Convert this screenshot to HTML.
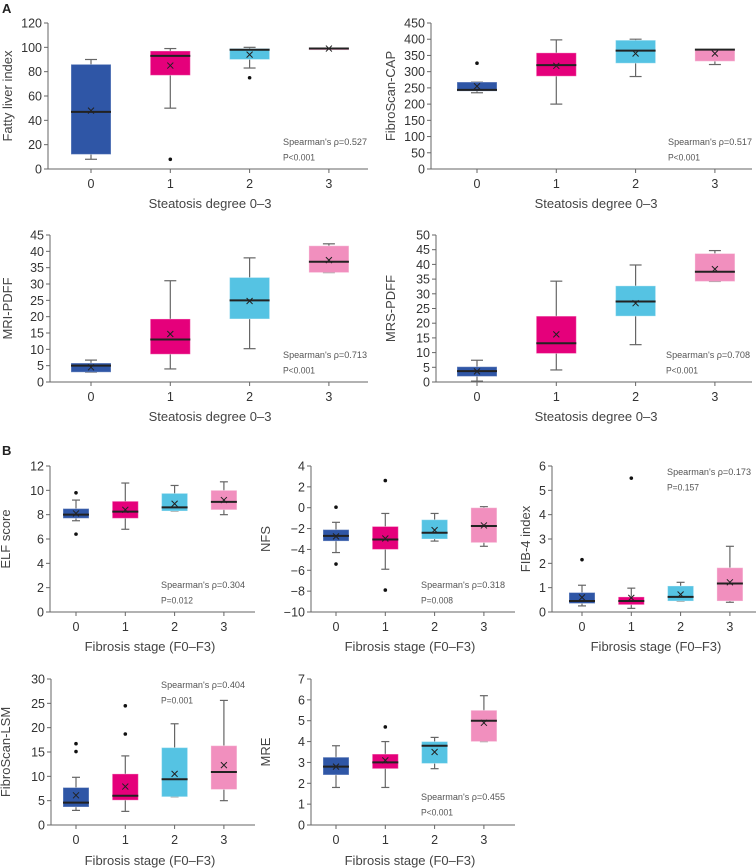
<!DOCTYPE html>
<html><head><meta charset="utf-8"><style>
html,body{margin:0;padding:0;background:#fff;}
svg{display:block;font-family:"Liberation Sans",sans-serif;}
</style></head><body>
<svg id="fig" width="756" height="868" viewBox="0 0 756 868">
<text x="2" y="13" font-size="13" font-weight="bold" fill="#222">A</text>
<text x="2" y="455" font-size="13" font-weight="bold" fill="#222">B</text>
</svg>
<script>
const categories=["0","1","2","3"];
const colors=["#2f56a6","#e5007b","#55c3e3","#f18fbe"];
// Fatty liver index
const fliLow=[8,50,83,99], fliQ1=[12,77,90,99], fliMed=[47,93,98,99], fliQ3=[86,97,99,99], fliHigh=[90,99,100,99], fliMean=[48,85,94,99];
const fliOut=[[],[8],[75],[]];
const fliTicks=[0,20,40,60,80,100,120];
// FibroScan-CAP
const capLow=[235,200,285,322], capQ1=[240,286,326,332], capMed=[244,320,365,368], capQ3=[268,358,397,368], capHigh=[268,398,400,368], capMean=[255,318,356,356];
const capOut=[[326],[],[],[]];
const capTicks=[0,50,100,150,200,250,300,350,400,450];
// MRI-PDFF
const mriLow=[3,4,10.2,33.5], mriQ1=[3,8.5,19.3,33.5], mriMed=[5,13,25,36.8], mriQ3=[5.8,19.3,32,41.7], mriHigh=[6.7,31,38,42.3], mriMean=[4.5,14.7,24.8,37.3];
const mriOut=[[],[],[],[]];
const mriTicks=[0,5,10,15,20,25,30,35,40,45];
// MRS-PDFF
const mrsLow=[0.3,4.1,12.7,34.2], mrsQ1=[1.9,9.7,22.4,34.2], mrsMed=[3.7,13.2,27.4,37.5], mrsQ3=[5.2,22.4,32.7,43.7], mrsHigh=[7.4,34.3,39.8,44.7], mrsMean=[3.6,16.2,26.8,38.4];
const mrsOut=[[],[],[],[]];
const mrsTicks=[0,5,10,15,20,25,30,35,40,45,50];
// ELF
const elfLow=[7.5,6.8,8.3,8.0], elfQ1=[7.7,7.7,8.3,8.4], elfMed=[8.0,8.25,8.6,9.05], elfQ3=[8.5,9.1,9.75,10.0], elfHigh=[9.2,10.6,10.4,10.7], elfMean=[8.1,8.4,8.9,9.2];
const elfOut=[[9.8,6.4],[],[],[]];
const elfTicks=[0,2,4,6,8,10,12];
// NFS
const nfsLow=[-4.3,-5.9,-3.2,-3.7], nfsQ1=[-3.2,-4.0,-3.0,-3.35], nfsMed=[-2.7,-3.05,-2.4,-1.75], nfsQ3=[-2.1,-1.8,-1.15,0.0], nfsHigh=[-1.4,-0.55,-0.55,0.1], nfsMean=[-2.75,-2.95,-2.15,-1.7];
const nfsOut=[[0.05,-5.4],[2.6,-7.9],[],[]];
const nfsTicks=[-10,-8,-6,-4,-2,0,2,4];
// FIB-4
const fibLow=[0.25,0.15,0.45,0.4], fibQ1=[0.35,0.3,0.45,0.45], fibMed=[0.45,0.45,0.62,1.17], fibQ3=[0.8,0.62,1.07,1.82], fibHigh=[1.1,0.98,1.22,2.7], fibMean=[0.6,0.58,0.72,1.22];
const fibOut=[[2.15],[5.5],[],[]];
const fibTicks=[0,1,2,3,4,5,6];
// FibroScan-LSM
const lsmLow=[3.0,2.8,5.8,5.0], lsmQ1=[3.7,5.1,5.8,7.3], lsmMed=[4.6,6.0,9.4,10.9], lsmQ3=[7.7,10.5,15.9,16.3], lsmHigh=[9.8,14.2,20.8,25.6], lsmMean=[6.1,7.9,10.5,12.3];
const lsmOut=[[16.7,15.1],[24.5,18.7],[],[]];
const lsmTicks=[0,5,10,15,20,25,30];
// MRE
const mreLow=[1.8,1.8,2.7,4.0], mreQ1=[2.4,2.7,2.95,4.0], mreMed=[2.8,3.0,3.8,5.0], mreQ3=[3.25,3.4,4.0,5.5], mreHigh=[3.8,4.0,4.2,6.2], mreMean=[2.8,3.1,3.5,4.9];
const mreOut=[[],[4.7],[],[]];
const mreTicks=[0,1,2,3,4,5,6,7];

const NS="http://www.w3.org/2000/svg";
const svg=document.getElementById('fig');
function mk(tag,attrs,parent){const e=document.createElementNS(NS,tag);for(const k in attrs)e.setAttribute(k,attrs[k]);(parent||svg).appendChild(e);return e;}

function panel(p){
  const g=mk('g',{});
  
  
  const t0=p.ticks[0], t1=p.ticks[p.ticks.length-1];
  const y=v=>p.y0-(v-t0)/(t1-t0)*(p.y0-p.yTop);
  const x=i=>p.cx0+i*p.dx;
  const ya=mk('line',{x1:p.ax,y1:p.yTop,x2:p.ax,y2:p.y0,stroke:'#666','stroke-width':1},g);
  
  
  const xa=mk('line',{x1:p.ax,y1:p.y0,x2:p.axEnd,y2:p.y0,stroke:'#666','stroke-width':1},g);
  
  
  p.ticks.forEach(v=>{
    mk('line',{x1:p.ax-4,y1:y(v),x2:p.ax,y2:y(v),stroke:'#666'},g);
    const t=mk('text',{x:p.ax-6,y:y(v)+4.5,'font-size':12.5,'text-anchor':'end',fill:'#333'},g);
    t.textContent=String(v).replace('-','\u2212');
    
    
  });
  categories.forEach((c,i)=>{
    mk('line',{x1:x(i),y1:p.y0,x2:x(i),y2:p.y0+4,stroke:'#666'},g);
    const t=mk('text',{x:x(i),y:p.y0+19,'font-size':12.5,'text-anchor':'middle',fill:'#333'},g);
    t.textContent=c;
    
    
    const bw=p.bw, cw=p.cap;
    const wl=mk('line',{x1:x(i),y1:y(p.low[i]),x2:x(i),y2:y(p.high[i]),stroke:'#666','stroke-width':1.2},g);
    
    
    mk('line',{x1:x(i)-cw/2,y1:y(p.low[i]),x2:x(i)+cw/2,y2:y(p.low[i]),stroke:'#666','stroke-width':1.2},g);
    mk('line',{x1:x(i)-cw/2,y1:y(p.high[i]),x2:x(i)+cw/2,y2:y(p.high[i]),stroke:'#666','stroke-width':1.2},g);
    const h=Math.max(1.5,y(p.q1[i])-y(p.q3[i]));
    const b=mk('rect',{x:x(i)-bw/2,y:y(p.q3[i]),width:bw,height:h,fill:colors[i],stroke:'rgba(255,255,255,0.35)','stroke-width':1},g);
    
    
    const m=mk('line',{x1:x(i)-bw/2,y1:y(p.med[i]),x2:x(i)+bw/2,y2:y(p.med[i]),stroke:'#222','stroke-width':2},g);
    
    
    const my=y(p.mean[i]), s=3;
    const mp=mk('path',{d:`M${x(i)-s},${my-s}L${x(i)+s},${my+s}M${x(i)-s},${my+s}L${x(i)+s},${my-s}`,stroke:'#222','stroke-width':1,fill:'none'},g);
    
    
    p.out[i].forEach(v=>{
      const o=mk('circle',{cx:x(i),cy:y(v),r:1.8,fill:'#111'},g);
      
      
    });
  });
  const xl=mk('text',{x:p.xlx,y:p.xly,'font-size':13,'text-anchor':'middle',fill:'#444'},g);
  xl.textContent=p.xlabel;
  
  
  const yc=(p.yTop+p.y0)/2;
  const yl=mk('text',{x:p.ylx,y:yc,'font-size':13,'text-anchor':'middle',fill:'#444',transform:`rotate(-90 ${p.ylx} ${yc})`},g);
  yl.textContent=p.ylabel;
  
  
  const s1=mk('text',{x:p.sx,y:p.sy,'font-size':9,fill:'#555',textLength:84,lengthAdjust:'spacingAndGlyphs'},g);
  s1.textContent=p.rho;
  
  
  const s2=mk('text',{x:p.sx,y:p.sy+15.5,'font-size':9,fill:'#555',textLength:32,lengthAdjust:'spacingAndGlyphs'},g);
  s2.textContent=p.pval;
  
  
}
const SD="Steatosis degree 0\u20133", FS="Fibrosis stage (F0\u2013F3)";
panel({name:'fatty-liver-index',ticks:fliTicks,low:fliLow,q1:fliQ1,med:fliMed,q3:fliQ3,high:fliHigh,mean:fliMean,out:fliOut,
 ax:48,axEnd:368,yTop:23,y0:169,cx0:91,dx:79.3,bw:40,cap:12,xlabel:SD,xlx:210,xly:208,ylabel:'Fatty liver index',ylx:12,sx:283,sy:145,rho:"Spearman's \u03c1=0.527",pval:'P<0.001'});
panel({name:'fibroscan-cap',ticks:capTicks,low:capLow,q1:capQ1,med:capMed,q3:capQ3,high:capHigh,mean:capMean,out:capOut,
 ax:431,axEnd:752,yTop:23,y0:169,cx0:477,dx:79.3,bw:40,cap:12,xlabel:SD,xlx:596,xly:208,ylabel:'FibroScan-CAP',ylx:395,sx:668,sy:145,rho:"Spearman's \u03c1=0.517",pval:'P<0.001'});
panel({name:'mri-pdff',ticks:mriTicks,low:mriLow,q1:mriQ1,med:mriMed,q3:mriQ3,high:mriHigh,mean:mriMean,out:mriOut,
 ax:50,axEnd:368,yTop:235,y0:382,cx0:91,dx:79.3,bw:40,cap:12,xlabel:SD,xlx:210,xly:421,ylabel:'MRI-PDFF',ylx:12,sx:283,sy:358,rho:"Spearman's \u03c1=0.713",pval:'P<0.001'});
panel({name:'mrs-pdff',ticks:mrsTicks,low:mrsLow,q1:mrsQ1,med:mrsMed,q3:mrsQ3,high:mrsHigh,mean:mrsMean,out:mrsOut,
 ax:436,axEnd:752,yTop:235,y0:382,cx0:477,dx:79.3,bw:40,cap:12,xlabel:SD,xlx:596,xly:421,ylabel:'MRS-PDFF',ylx:395,sx:666,sy:358,rho:"Spearman's \u03c1=0.708",pval:'P<0.001'});
panel({name:'elf-score',ticks:elfTicks,low:elfLow,q1:elfQ1,med:elfMed,q3:elfQ3,high:elfHigh,mean:elfMean,out:elfOut,
 ax:50,axEnd:255,yTop:466,y0:612,cx0:76,dx:49.3,bw:26,cap:8,xlabel:FS,xlx:150,xly:651,ylabel:'ELF score',ylx:10,sx:161,sy:588,rho:"Spearman's \u03c1=0.304",pval:'P=0.012'});
panel({name:'nfs',ticks:nfsTicks,low:nfsLow,q1:nfsQ1,med:nfsMed,q3:nfsQ3,high:nfsHigh,mean:nfsMean,out:nfsOut,
 ax:311,axEnd:515,yTop:466,y0:612,cx0:336,dx:49.3,bw:26,cap:8,xlabel:FS,xlx:410,xly:651,ylabel:'NFS',ylx:270,sx:421,sy:588,rho:"Spearman's \u03c1=0.318",pval:'P=0.008'});
panel({name:'fib-4-index',ticks:fibTicks,low:fibLow,q1:fibQ1,med:fibMed,q3:fibQ3,high:fibHigh,mean:fibMean,out:fibOut,
 ax:552,axEnd:756,yTop:466,y0:612,cx0:582,dx:49.3,bw:26,cap:8,xlabel:FS,xlx:656,xly:651,ylabel:'FIB-4 index',ylx:530,sx:667,sy:475,rho:"Spearman's \u03c1=0.173",pval:'P=0.157'});
panel({name:'fibroscan-lsm',ticks:lsmTicks,low:lsmLow,q1:lsmQ1,med:lsmMed,q3:lsmQ3,high:lsmHigh,mean:lsmMean,out:lsmOut,
 ax:51,axEnd:255,yTop:679,y0:825,cx0:76,dx:49.3,bw:26,cap:8,xlabel:FS,xlx:150,xly:865,ylabel:'FibroScan-LSM',ylx:10,sx:161,sy:688,rho:"Spearman's \u03c1=0.404",pval:'P=0.001'});
panel({name:'mre',ticks:mreTicks,low:mreLow,q1:mreQ1,med:mreMed,q3:mreQ3,high:mreHigh,mean:mreMean,out:mreOut,
 ax:311,axEnd:515,yTop:679,y0:825,cx0:336,dx:49.3,bw:26,cap:8,xlabel:FS,xlx:410,xly:865,ylabel:'MRE',ylx:270,sx:421,sy:800,rho:"Spearman's \u03c1=0.455",pval:'P<0.001'});
</script>
</body></html>
